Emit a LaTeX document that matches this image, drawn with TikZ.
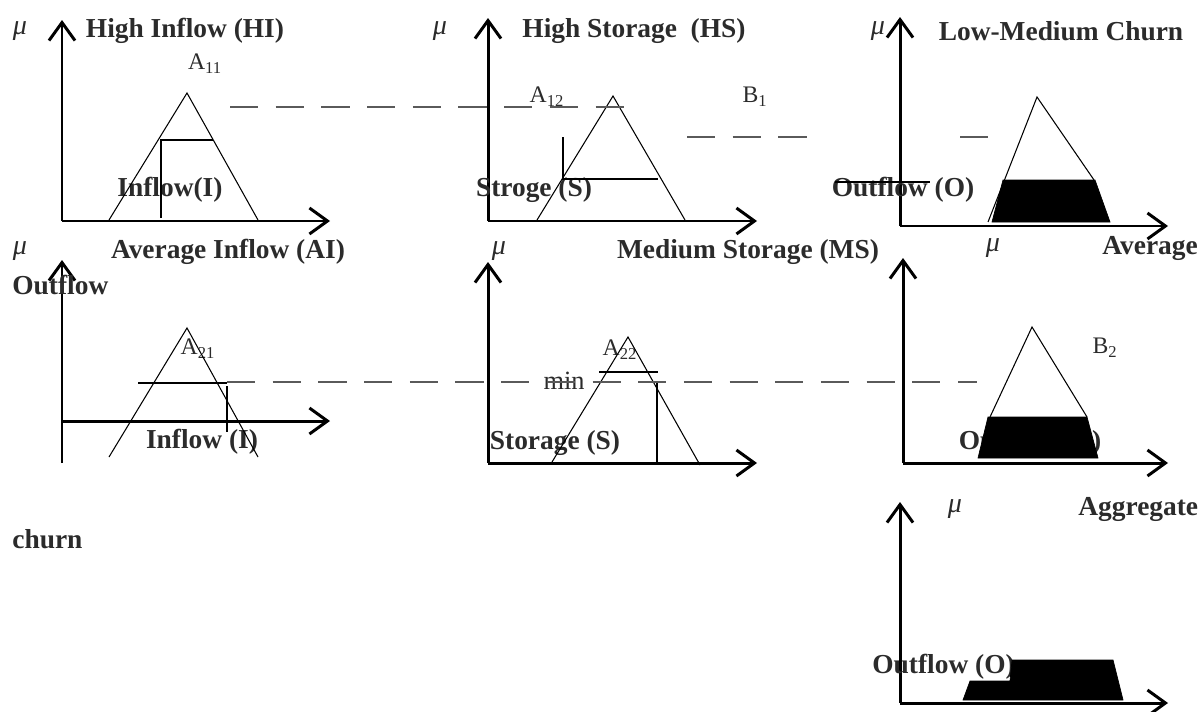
\documentclass[tikz,border=0pt]{standalone}
\usepackage{fontspec}
\setmainfont{Liberation Serif}
\usepackage{xcolor}
\definecolor{ink}{HTML}{2B2B2B}
\definecolor{dsh}{HTML}{5A5A5A}
\usetikzlibrary{arrows.meta}
\tikzset{
  >={Straight Barb[length=3.6mm,width=5.2mm]},
  axis/.style={->,line width=1.7pt},
  mf/.style={line width=0.6pt},
  guide/.style={draw=dsh,line width=0.8pt,dash pattern=on 16pt off 10pt},
  blk/.style={fill=black,draw=black,line width=0.4pt},
  ttl/.style={font=\fontsize{15.6}{18}\selectfont\bfseries,text=ink,inner sep=0pt},
  lab/.style={font=\fontsize{13.5}{16}\selectfont,text=ink,inner sep=0pt},
  mu/.style={font=\fontsize{16}{18}\selectfont\itshape,text=ink,inner sep=0pt},
}
\begin{document}
\begin{tikzpicture}[x=0.2mm,y=-0.2mm]
\useasboundingbox (0,0) rectangle (1200,711);
% axes (origin, mu tip, x tip)
\coordinate (o1) at (62,221);  \coordinate (y1) at (62,20);  \coordinate (x1) at (330,221);
\coordinate (o2) at (488,221); \coordinate (y2) at (488,18); \coordinate (x2) at (757,221);
\coordinate (o3) at (900,226); \coordinate (y3) at (900,17); \coordinate (x3) at (1168,226);
\coordinate (b4) at (62,463);  \coordinate (y4) at (62,260); \coordinate (o4) at (62,421); \coordinate (x4) at (330,421);
\coordinate (o5) at (488,463); \coordinate (y5) at (488,262); \coordinate (x5) at (757,463);
\coordinate (o6) at (903,463); \coordinate (y6) at (903,258); \coordinate (x6) at (1168,463);
\coordinate (o7) at (900,703); \coordinate (y7) at (900,502); \coordinate (x7) at (1168,703);
\draw[axis] (o1) -- (y1); \draw[axis] (o1) -- (x1);
\draw[axis] (o2) -- (y2); \draw[axis] (o2) -- (x2);
\draw[axis] (o3) -- (y3); \draw[axis] (o3) -- (x3);
\draw[axis] (b4) -- (y4); \draw[axis] (o4) -- (x4);
\draw[axis] (o5) -- (y5); \draw[axis] (o5) -- (x5);
\draw[axis] (o6) -- (y6); \draw[axis] (o6) -- (x6);
\draw[axis] (o7) -- (y7); \draw[axis] (o7) -- (x7);

% row 1
\node[mu] (mu1) at (20,31) {μ};
\node[ttl] (hi) at (185,31) {High Inflow (HI)};
\node[lab] (a11) at (205,64) {A\textsubscript{11}};
\node[ttl] (in1) at (170,190) {Inflow(I)};
\draw[mf] (109,220) -- (187,93) -- (258,220);
\draw[mf] (161,218) -- (161,140) -- (213,140);

\node[mu] (mu2) at (440,31) {μ};
\node[ttl] (hs) at (634,31) {High Storage\ \ (HS)};
\node[lab] (a12) at (547,97) {A\textsubscript{12}};
\node[lab] (b1) at (755,97) {B\textsubscript{1}};
\node[ttl] (st1) at (534,190) {Stroge (S)};
\draw[mf] (537,220) -- (613,96) -- (685,220);
\draw[mf] (563,137) -- (563,179) -- (658,179);

\node[mu] (mu3) at (878,31) {μ};
\node[ttl] (lmc) at (1061,31) {Low-Medium Churn};
\node[ttl] (out1) at (903,190) {Outflow (O)};
\draw[mf] (835,182) -- (930,182);
\draw[mf] (988,222) -- (1037,97) -- (1094,180);
\fill[blk] (1003,180) -- (1095,180) -- (1110,222) -- (992,222) -- cycle;

\coordinate (d1a) at (230,107); \coordinate (d1b) at (630,107);
\draw[guide] (d1a) -- (d1b);
\coordinate (d2a) at (687,137); \coordinate (d2b) at (818,137);
\coordinate (d2c) at (960,137); \coordinate (d2d) at (988,137);
\draw[guide] (d2a) -- (d2b);
\draw[draw=dsh,line width=0.8pt] (d2c) -- (d2d);

% row 2
\node[mu] (mu4) at (20,251) {μ};
\node[ttl] (ai) at (228,252) {Average Inflow (AI)};
\node[ttl,anchor=west] (wr1) at (12,285) {Outflow};
\node[lab] (a21) at (198,349) {A\textsubscript{21}};
\node[ttl] (in2) at (202,442) {Inflow (I)};
\draw[mf] (109,457) -- (187,328) -- (258,457);
\draw[mf] (138,383) -- (227,383);
\draw[mf] (227,386) -- (227,432);

\node[mu] (mu5) at (499,251) {μ};
\node[ttl] (ms) at (748,252) {Medium Storage (MS)};
\node[lab] (a22) at (620,350) {A\textsubscript{22}};
\node[lab,font=\fontsize{15}{18}\selectfont] (mn) at (564,381) {min};
\node[ttl] (st2) at (555,443) {Storage (S)};
\draw[mf] (552,462) -- (628,337) -- (700,465);
\draw[mf] (599,372) -- (658,372);
\draw[mf] (657,383) -- (657,462);

\node[mu] (mu6) at (993,248) {μ};
\node[ttl,anchor=west] (avg) at (1102,248) {Average};
\node[lab] (b2) at (1105,348) {B\textsubscript{2}};
\node[ttl] (out2) at (1030,443) {Outflow (O)};
\draw[mf] (990,417) -- (1032,327) -- (1087,417);
\fill[blk] (988,417) -- (1087,417) -- (1098,458) -- (978,458) -- cycle;

\coordinate (d3a) at (227,382); \coordinate (d3b) at (977,382);
\draw[guide] (d3a) -- (d3b);

% aggregate
\node[mu] (mu7) at (955,509) {μ};
\node[ttl,anchor=west] (agg) at (1078,509) {Aggregate};
\node[ttl,anchor=west] (wr2) at (12,539) {churn};
\node[ttl,anchor=west] (out3) at (872,667) {Outflow (O)};
\fill[blk] (963,700) -- (970,681) -- (1010,681) -- (1012,660) -- (1113,660) -- (1123,700) -- cycle;
\end{tikzpicture}
\end{document}
